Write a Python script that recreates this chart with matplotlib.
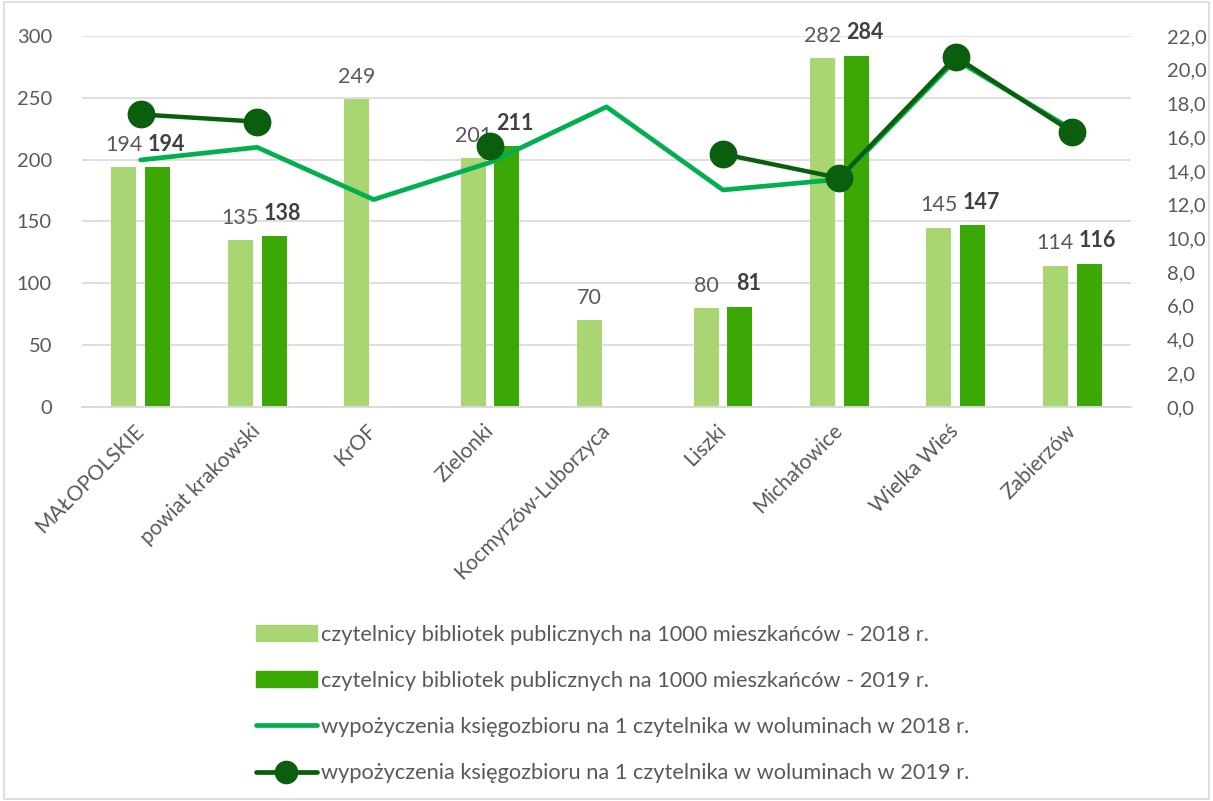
import numpy as np
import matplotlib
matplotlib.use("Agg")
import matplotlib.pyplot as plt
from matplotlib.lines import Line2D
from matplotlib.patches import Rectangle
from matplotlib.transforms import ScaledTranslation

plt.rcParams['font.family'] = ['Lato', 'DejaVu Sans']

categories = ["MAŁOPOLSKIE", "powiat krakowski", "KrOF", "Zielonki", "Kocmyrzów-Luborzyca",
              "Liszki", "Michałowice", "Wielka Wieś", "Zabierzów"]
readers_2018 = [194, 135, 249, 201, 70, 80, 282, 145, 114]
readers_2019 = [194, 138, np.nan, 211, np.nan, 81, 284, 147, 116]
loans_2018 = [14.65, 15.4, 12.3, 14.5, 17.8, 12.87, 13.5, 20.6, 16.45]
loans_2019 = [17.35, 16.92, np.nan, 15.48, np.nan, 15.0, 13.58, 20.76, 16.3]

labels_legend = [
    "czytelnicy bibliotek publicznych na 1000 mieszkańców - 2018 r.",
    "czytelnicy bibliotek publicznych na 1000 mieszkańców - 2019 r.",
    "wypożyczenia księgozbioru na 1 czytelnika w woluminach w 2018 r.",
    "wypożyczenia księgozbioru na 1 czytelnika w woluminach w 2019 r.",
]

C_LIGHT = "#A9D672"
C_DARK = "#3CA805"
C_LINE18 = "#00B050"
C_LINE19 = "#0B5E0E"
TXT = "#595959"

fig = plt.figure(figsize=(12.13, 8.01), dpi=100)
ax = fig.add_axes([0.068, 0.492, 0.864, 0.463])
ax2 = ax.twinx()

x = np.arange(len(categories))
w = 0.215
off = 0.145
ax.bar(x - off, readers_2018, w, color=C_LIGHT, zorder=2)
ax.bar(x + off, readers_2019, w, color=C_DARK, zorder=2)

for xi, v in zip(x, readers_2018):
    ax.annotate(f"{v:d}", (xi - off, v), xytext=(0, 9), textcoords="offset points",
                ha="center", va="bottom", fontsize=15.5, color=TXT)
for xi, v in zip(x, readers_2019):
    if not np.isnan(v):
        ax.annotate(f"{int(v):d}", (xi + off, v), xytext=(6, 9), textcoords="offset points",
                    ha="center", va="bottom", fontsize=15.5, color="#404040", fontweight="bold")

ax2.plot(x, loans_2018, color=C_LINE18, lw=3.4, solid_capstyle="round", zorder=3)
ax2.plot(x, loans_2019, color=C_LINE19, lw=3.2, marker="o", markersize=19,
         solid_capstyle="round", zorder=4)

ax.set_xlim(-0.5, len(categories) - 0.5)
ax.set_ylim(0, 300)
ax.set_yticks(np.arange(0, 301, 50))
ax2.set_ylim(0, 22)
ax2.set_yticks(np.arange(0, 22.1, 2))
ax2.set_yticklabels([f"{t:.1f}".replace(".", ",") for t in np.arange(0, 22.1, 2)])

ax.set_xticks(x)
ax.set_xticklabels(categories, rotation=45, ha="right", va="center", rotation_mode="anchor")
shift = ScaledTranslation(-17 / 100, 0, fig.dpi_scale_trans)
for t in ax.get_xticklabels():
    t.set_transform(t.get_transform() + shift)
ax.grid(axis="y", color="#D9D9D9", lw=1.2, zorder=0)
ax.set_axisbelow(True)
for a in (ax, ax2):
    for s in ("top", "left", "right"):
        a.spines[s].set_visible(False)
    a.spines["bottom"].set_color("#D9D9D9")
    a.spines["bottom"].set_linewidth(1.2)
ax.tick_params(axis="x", length=0, labelsize=15, labelcolor=TXT, pad=15)
ax.tick_params(axis="y", length=0, labelsize=14.5, labelcolor=TXT, pad=22)
ax2.tick_params(axis="y", length=0, labelsize=14.5, labelcolor=TXT, pad=26)

handles = [
    Rectangle((0, 0), 1, 1, color=C_LIGHT),
    Rectangle((0, 0), 1, 1, color=C_DARK),
    Line2D([], [], color=C_LINE18, lw=3.4, solid_capstyle="round"),
    Line2D([], [], color=C_LINE19, lw=3.4, marker="o", markersize=16, solid_capstyle="round"),
]
fig.legend(handles, labels_legend, loc="center", bbox_to_anchor=(0.505, 0.121),
           frameon=False, fontsize=15.7, labelcolor=TXT, handlelength=2.8,
           handleheight=0.75, handletextpad=0.2, labelspacing=1.2, markerscale=1.0)

fig.patches.append(Rectangle((0.003, 0.003), 0.994, 0.994, transform=fig.transFigure,
                             fill=False, edgecolor="#D9D9D9", lw=1.2))

fig.savefig("out.png", dpi=100)
